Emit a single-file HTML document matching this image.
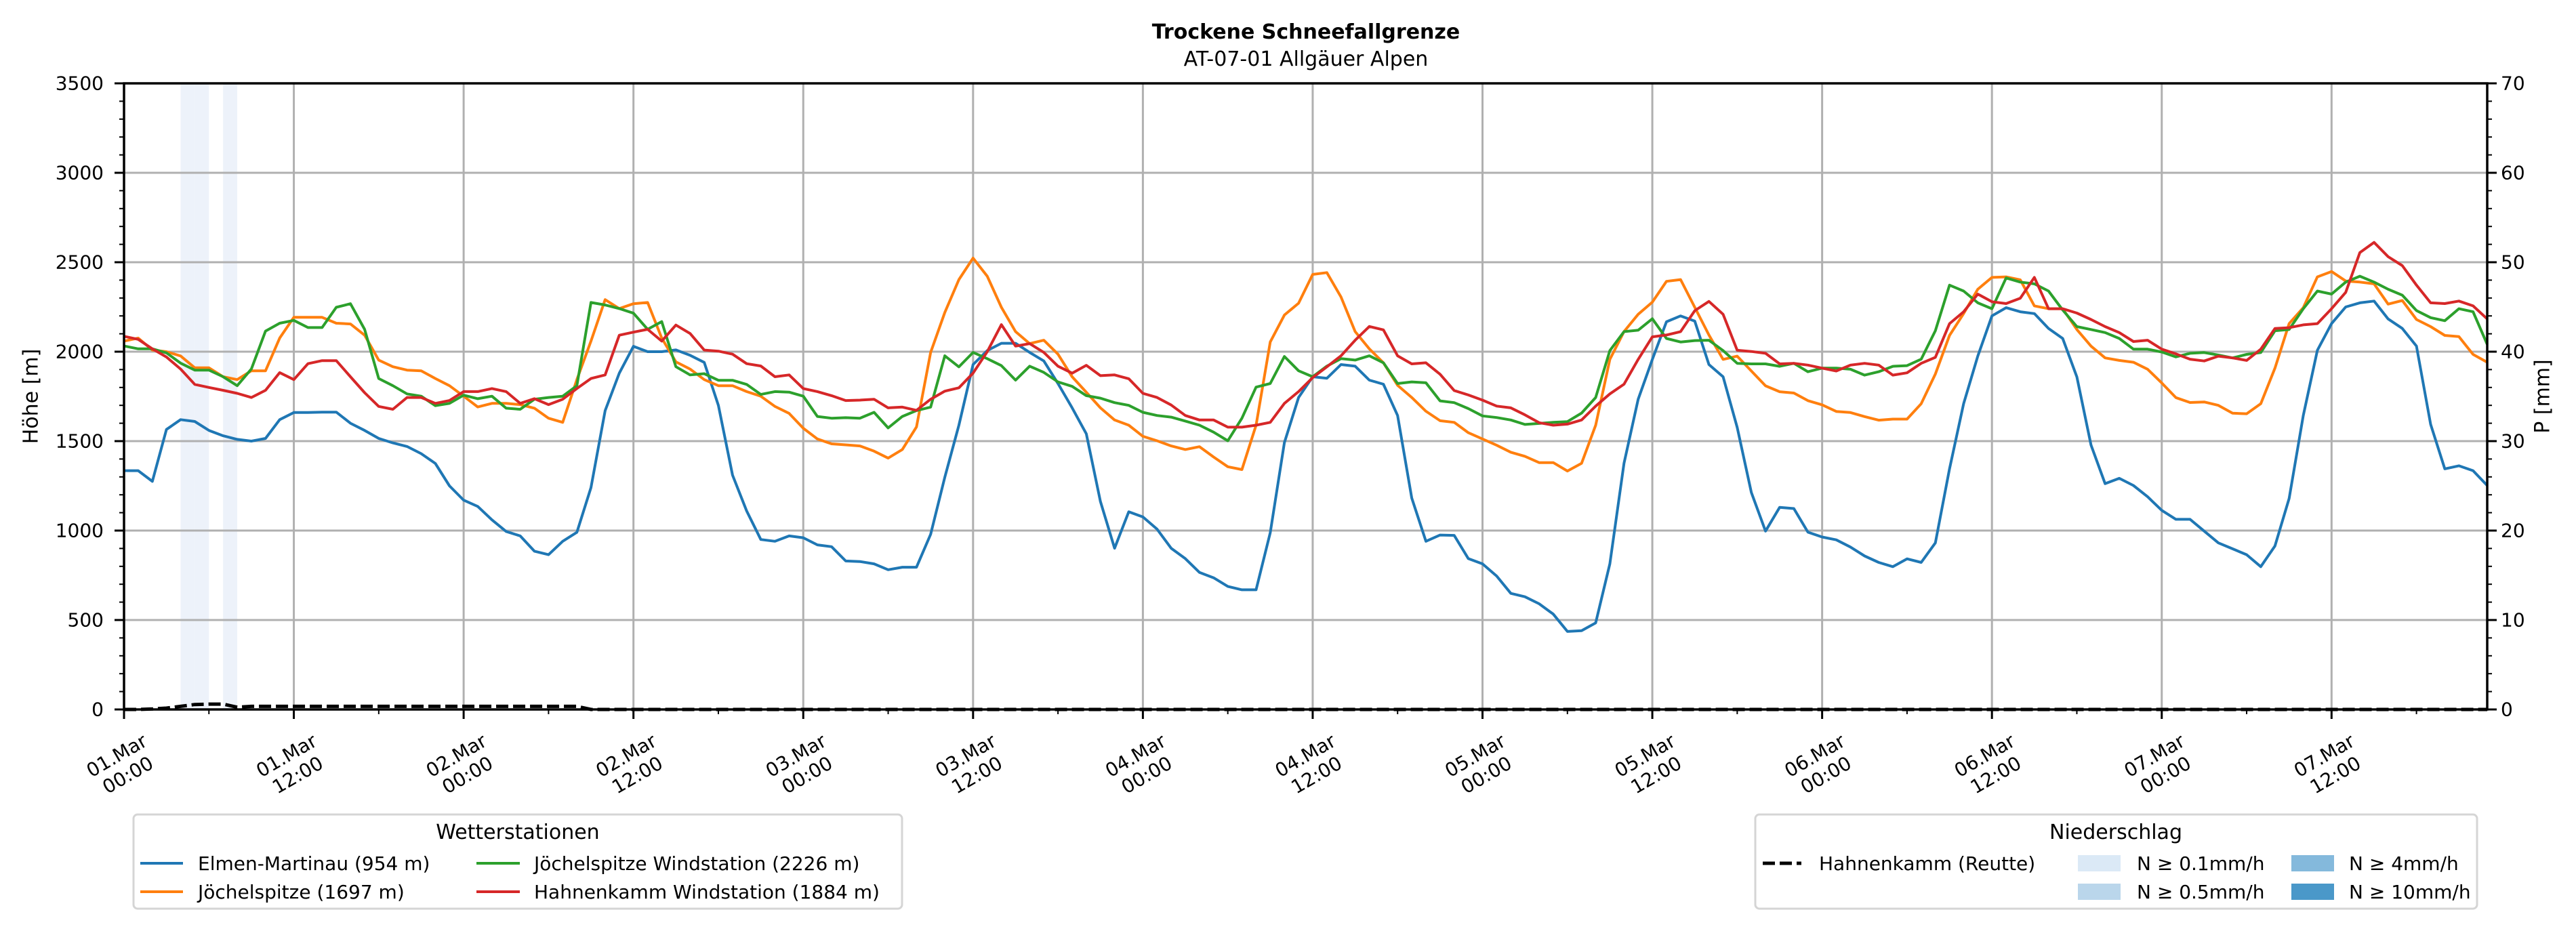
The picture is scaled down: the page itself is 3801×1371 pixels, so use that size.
<!DOCTYPE html>
<html><head><meta charset="utf-8"><title>Trockene Schneefallgrenze</title>
<style>
html,body{margin:0;padding:0;background:#fff;}
svg{display:block;font-family:"DejaVu Sans","Liberation Sans",sans-serif;}
</style></head>
<body>
<svg id="chart" xmlns="http://www.w3.org/2000/svg" width="3801" height="1371" viewBox="0 0 3801 1371">
<rect x="0" y="0" width="3801" height="1371" fill="#fff"/>
<text x="1927" y="57" text-anchor="middle" font-size="30" font-weight="bold">Trockene Schneefallgrenze</text>
<text x="1927" y="97" text-anchor="middle" font-size="30">AT-07-01 Allgäuer Alpen</text>
<g id="shade"></g>
<g id="grid"></g>
<g id="series"></g>
<g id="axes"></g>
<text x="46" y="585" text-anchor="middle" dominant-baseline="central" font-size="30" transform="rotate(-90 46 585)">Höhe [m]</text>
<text x="3752" y="585" text-anchor="middle" dominant-baseline="central" font-size="30" transform="rotate(-90 3752 585)">P [mm]</text>

<g>
<rect x="197" y="1202" width="1134" height="139" rx="6" fill="#fff" stroke="#d5d5d5" stroke-width="3"/>
<text x="764" y="1238" text-anchor="middle" font-size="30">Wetterstationen</text>
<g><line x1="207" y1="1274" x2="270" y2="1274" stroke="#1f77b4" stroke-width="4"/><text x="292" y="1284" font-size="28">Elmen-Martinau (954 m)</text></g>
<g><line x1="207" y1="1316" x2="270" y2="1316" stroke="#ff7f0e" stroke-width="4"/><text x="292" y="1326" font-size="28">Jöchelspitze (1697 m)</text></g>
<g><line x1="703" y1="1274" x2="767" y2="1274" stroke="#2ca02c" stroke-width="4"/><text x="788" y="1284" font-size="28">Jöchelspitze Windstation (2226 m)</text></g>
<g><line x1="703" y1="1316" x2="767" y2="1316" stroke="#d62728" stroke-width="4"/><text x="788" y="1326" font-size="28">Hahnenkamm Windstation (1884 m)</text></g>
</g>

<g>
<rect x="2590" y="1202" width="1065" height="139" rx="6" fill="#fff" stroke="#d5d5d5" stroke-width="3"/>
<text x="3122" y="1238" text-anchor="middle" font-size="30">Niederschlag</text>
<g><line x1="2601" y1="1274" x2="2658" y2="1274" stroke="#000" stroke-width="5" stroke-dasharray="18,7"/><text x="2684" y="1284" font-size="28">Hahnenkamm (Reutte)</text></g>
<g><rect x="3066" y="1262" width="63" height="24" fill="#dbe9f6"/><text x="3153" y="1284" font-size="28">N ≥ 0.1mm/h</text></g>
<g><rect x="3066" y="1304" width="63" height="24" fill="#bad6eb"/><text x="3153" y="1326" font-size="28">N ≥ 0.5mm/h</text></g>
<g><rect x="3381" y="1262" width="63" height="24" fill="#84b9dc"/><text x="3466" y="1284" font-size="28">N ≥ 4mm/h</text></g>
<g><rect x="3381" y="1304" width="63" height="24" fill="#4a98c9"/><text x="3466" y="1326" font-size="28">N ≥ 10mm/h</text></g>
</g>
</svg>
<script>
const elmen = [1335,1335,1275,1565,1620,1610,1560,1530,1510,1500,1515,1620,
1660,1660,1662,1662,1600,1560,1515,1490,1470,1430,1375,1250,
1170,1135,1060,995,970,885,865,940,990,1240,1670,1880,
2030,2000,2000,2010,1980,1940,1700,1310,1110,950,940,970,
960,920,910,830,
827,814,781,795,795,979,1298,1589,1928,2006,2047,2047,
1996,1948,1822,1686,1541,1163,901,1105,1076,1008,901,843,
766,736,688,669,669,988,1492,1744,1860,1851,1928,1919,
1841,1818,1643,1182,940,975,973,843,814,746,649,630,
591,533,436,440,484,814,1376,1734,1957,2167,2200,2171,
1928,1860,
1577,1213,997,1130,1123,991,964,948,908,858,822,798,
842,822,931,1345,1709,1975,2200,2246,2223,2213,2130,2074,
1859,1478,1262,1292,1252,1189,1113,1063,1063,997,931,898,
865,798,914,1179,1643,2008,2157,2250,2273,2283,2183,2130,
2031,1594,1345,1362,1335,1252];
const joechel = [2059,2076,2009,2000,1976,1910,1910,1860,1844,1893,1893,2076,
2192,2192,2192,2159,2155,2092,1953,1916,1897,1893,1850,1810,
1751,1691,1711,1711,1704,1684,1628,1605,1844,2059,2291,2241,
2268,2275,2076,1943,1903,1844,1810,1810,1777,1751,1694,1655,
1572,1512,1485,1479,
1473,1444,1405,1453,1579,1996,2219,2403,2523,2422,2248,2112,
2045,2064,1986,1860,1773,1686,1618,1589,1527,1502,1473,1453,
1469,1411,1357,1341,1589,2054,2205,2271,2432,2442,2306,2112,
2016,1938,1812,1744,1667,1614,1605,1547,1512,1477,1438,1415,
1380,1380,1333,1376,1589,1957,2112,2209,2277,2393,2403,2248,
2093,1957,
1975,1892,1809,1776,1769,1726,1703,1666,1660,1637,1617,1623,
1623,1709,1875,2091,2213,2349,2415,2418,2402,2256,2240,2240,
2124,2031,1965,1951,1941,1902,1825,1743,1716,1719,1700,1656,
1653,1709,1908,2157,2246,2418,2448,2395,2389,2379,2266,2286,
2180,2140,2091,2084,1985,1941];
const joechelWind = [2032,2016,2016,1993,1936,1897,1897,1860,1810,1903,2115,2159,
2175,2135,2135,2248,2268,2125,1850,1810,1764,1751,1698,1711,
1757,1737,1751,1684,1678,1734,1744,1751,1810,2275,2261,2241,
2215,2125,2168,1916,1870,1877,1840,1840,1817,1761,1777,1774,
1751,1638,1628,1631,
1628,1661,1574,1638,1671,1690,1977,1915,1996,1961,1922,1841,
1919,1884,1831,1806,1754,1740,1715,1700,1661,1643,1634,1612,
1589,1550,1502,1628,1802,1822,1973,1893,1860,1919,1961,1953,
1977,1938,1822,1831,1826,1725,1715,1682,1641,1632,1618,1593,
1599,1605,1609,1657,1744,2006,2112,2120,2184,2074,2054,2062,
2064,2006,
1935,1932,1932,1918,1935,1888,1908,1908,1902,1869,1888,1918,
1922,1958,2117,2372,2339,2273,2240,2412,2389,2379,2339,2233,
2140,2124,2107,2074,2014,2014,1998,1971,1991,1995,1981,1965,
1985,1995,2117,2124,2240,2339,2322,2389,2422,2389,2349,2316,
2230,2190,2173,2240,2223,2041];
const hahnenWind = [2086,2069,2016,1970,1903,1817,1800,1784,1767,1744,1784,1883,
1844,1933,1950,1950,1860,1771,1694,1678,1744,1744,1711,1727,
1777,1777,1794,1777,1711,1737,1704,1734,1794,1850,1870,2092,
2109,2125,2059,2149,2102,2009,2003,1986,1933,1920,1860,1870,
1794,1777,1754,1727,
1729,1734,1686,1690,1672,1734,1779,1798,1880,2000,2151,2031,
2045,1996,1919,1880,1924,1866,1870,1849,1767,1744,1702,1643,
1618,1618,1578,1578,1589,1605,1711,1777,1855,1915,1977,2064,
2141,2122,1977,1932,1938,1874,1783,1758,1729,1696,1686,1647,
1603,1589,1595,1618,1696,1764,1818,1957,2083,2093,2112,2229,
2281,2209,
2008,2001,1991,1932,1935,1925,1908,1892,1925,1935,1925,1869,
1882,1935,1968,2157,2223,2322,2279,2269,2299,2415,2240,2240,
2216,2180,2140,2107,2057,2064,2014,1988,1958,1948,1975,1965,
1951,2014,2130,2134,2150,2157,2240,2332,2554,2611,2531,2481,
2372,2273,2269,2283,2256,2183];
const precipReutte = [0,0,0.05,0.15,0.35,0.55,0.6,0.6,0.25,0.35,0.35,0.35,
0.35,0.35,0.35,0.35,0.35,0.35,0.35,0.35,0.35,0.35,0.35,0.35,
0.35,0.35,0.35,0.35,0.35,0.35,0.35,0.35,0.35].concat(new Array(135).fill(0));
const shadeHours = [4,5,7];
const yTicksLeft = [0,500,1000,1500,2000,2500,3000,3500];
const yTicksRight = [0,10,20,30,40,50,60,70];
const xTickDays = ["01.Mar","01.Mar","02.Mar","02.Mar","03.Mar","03.Mar","04.Mar","04.Mar","05.Mar","05.Mar","06.Mar","06.Mar","07.Mar","07.Mar"];
const xTickTimes = ["00:00","12:00","00:00","12:00","00:00","12:00","00:00","12:00","00:00","12:00","00:00","12:00","00:00","12:00"];

const NS='http://www.w3.org/2000/svg';
const X0=183,X1=3670,Y0=123,Y1=1047,HMAX=167;
const xS=h=>X0+h*(X1-X0)/HMAX;
const yL=v=>Y1-v*(Y1-Y0)/3500;
const yR=p=>Y1-p*(Y1-Y0)/70;
function mk(tag,attrs,parent){const e=document.createElementNS(NS,tag);for(const k in attrs)e.setAttribute(k,attrs[k]);parent.appendChild(e);return e;}
const gShade=document.getElementById('shade'),gGrid=document.getElementById('grid'),gSer=document.getElementById('series'),gAx=document.getElementById('axes');

shadeHours.forEach(h=>{
  const r=mk('rect',{x:xS(h),y:Y0,width:xS(h+1)-xS(h),height:Y1-Y0,fill:'#edf2fa'},gShade);
  
  
});

xTickDays.forEach((d,i)=>{
  const l=mk('line',{x1:xS(i*12),x2:xS(i*12),y1:Y0,y2:Y1,stroke:'#b0b0b0','stroke-width':3},gGrid);
  
  
});
yTicksLeft.forEach(v=>{
  const l=mk('line',{x1:X0,x2:X1,y1:yL(v),y2:yL(v),stroke:'#b0b0b0','stroke-width':3},gGrid);
  
  
});

function drawLine(arr,color,name){
  const pts=arr.map((v,h)=>xS(h).toFixed(1)+','+yL(v).toFixed(1)).join(' ');
  const p=mk('polyline',{points:pts,fill:'none',stroke:color,'stroke-width':4,'stroke-linejoin':'round'},gSer);
  
  
}
drawLine(elmen,'#1f77b4','line-elmen-martinau');
drawLine(joechel,'#ff7f0e','line-joechelspitze');
drawLine(joechelWind,'#2ca02c','line-joechelspitze-windstation');
drawLine(hahnenWind,'#d62728','line-hahnenkamm-windstation');
const pp=mk('polyline',{points:precipReutte.map((p,h)=>xS(h).toFixed(1)+','+yR(p).toFixed(1)).join(' '),fill:'none',stroke:'#000','stroke-width':5,'stroke-dasharray':'18,7'},gSer);



const fr=mk('rect',{x:X0,y:Y0,width:X1-X0,height:Y1-Y0,fill:'none',stroke:'#000','stroke-width':3.5},gAx);



for(let v=0;v<=3500;v+=100){
  const major=v%500===0;
  mk('line',{x1:X0,x2:X0-(major?14:7),y1:yL(v),y2:yL(v),stroke:'#000','stroke-width':major?3:2},gAx);
}
yTicksLeft.forEach(v=>{
  const t=mk('text',{x:X0-30,y:yL(v),'text-anchor':'end','dominant-baseline':'central','font-size':28},gAx);
  t.textContent=v;
  
  
});
for(let p=0;p<=70;p+=2){
  const major=p%10===0;
  mk('line',{x1:X1,x2:X1+(major?14:7),y1:yR(p),y2:yR(p),stroke:'#000','stroke-width':major?3:2},gAx);
}
yTicksRight.forEach(p=>{
  const t=mk('text',{x:X1+20,y:yR(p),'text-anchor':'start','dominant-baseline':'central','font-size':28},gAx);
  t.textContent=p;
  
  
});
for(let h=0;h<=HMAX;h+=6){
  const major=h%12===0;
  mk('line',{x1:xS(h),x2:xS(h),y1:Y1,y2:Y1+(major?14:7),stroke:'#000','stroke-width':major?3:2},gAx);
}
xTickDays.forEach((d,i)=>{
  const cx=xS(i*12)-4,cy=1127;
  const t=mk('text',{x:cx,y:cy,'text-anchor':'middle','font-size':28,transform:'rotate(-30 '+cx+' '+cy+')'},gAx);
  
  
  const a=mk('tspan',{x:cx,dy:-4},t);a.textContent=d;
  const b=mk('tspan',{x:cx,dy:33},t);b.textContent=xTickTimes[i];
});
</script>
</body></html>
